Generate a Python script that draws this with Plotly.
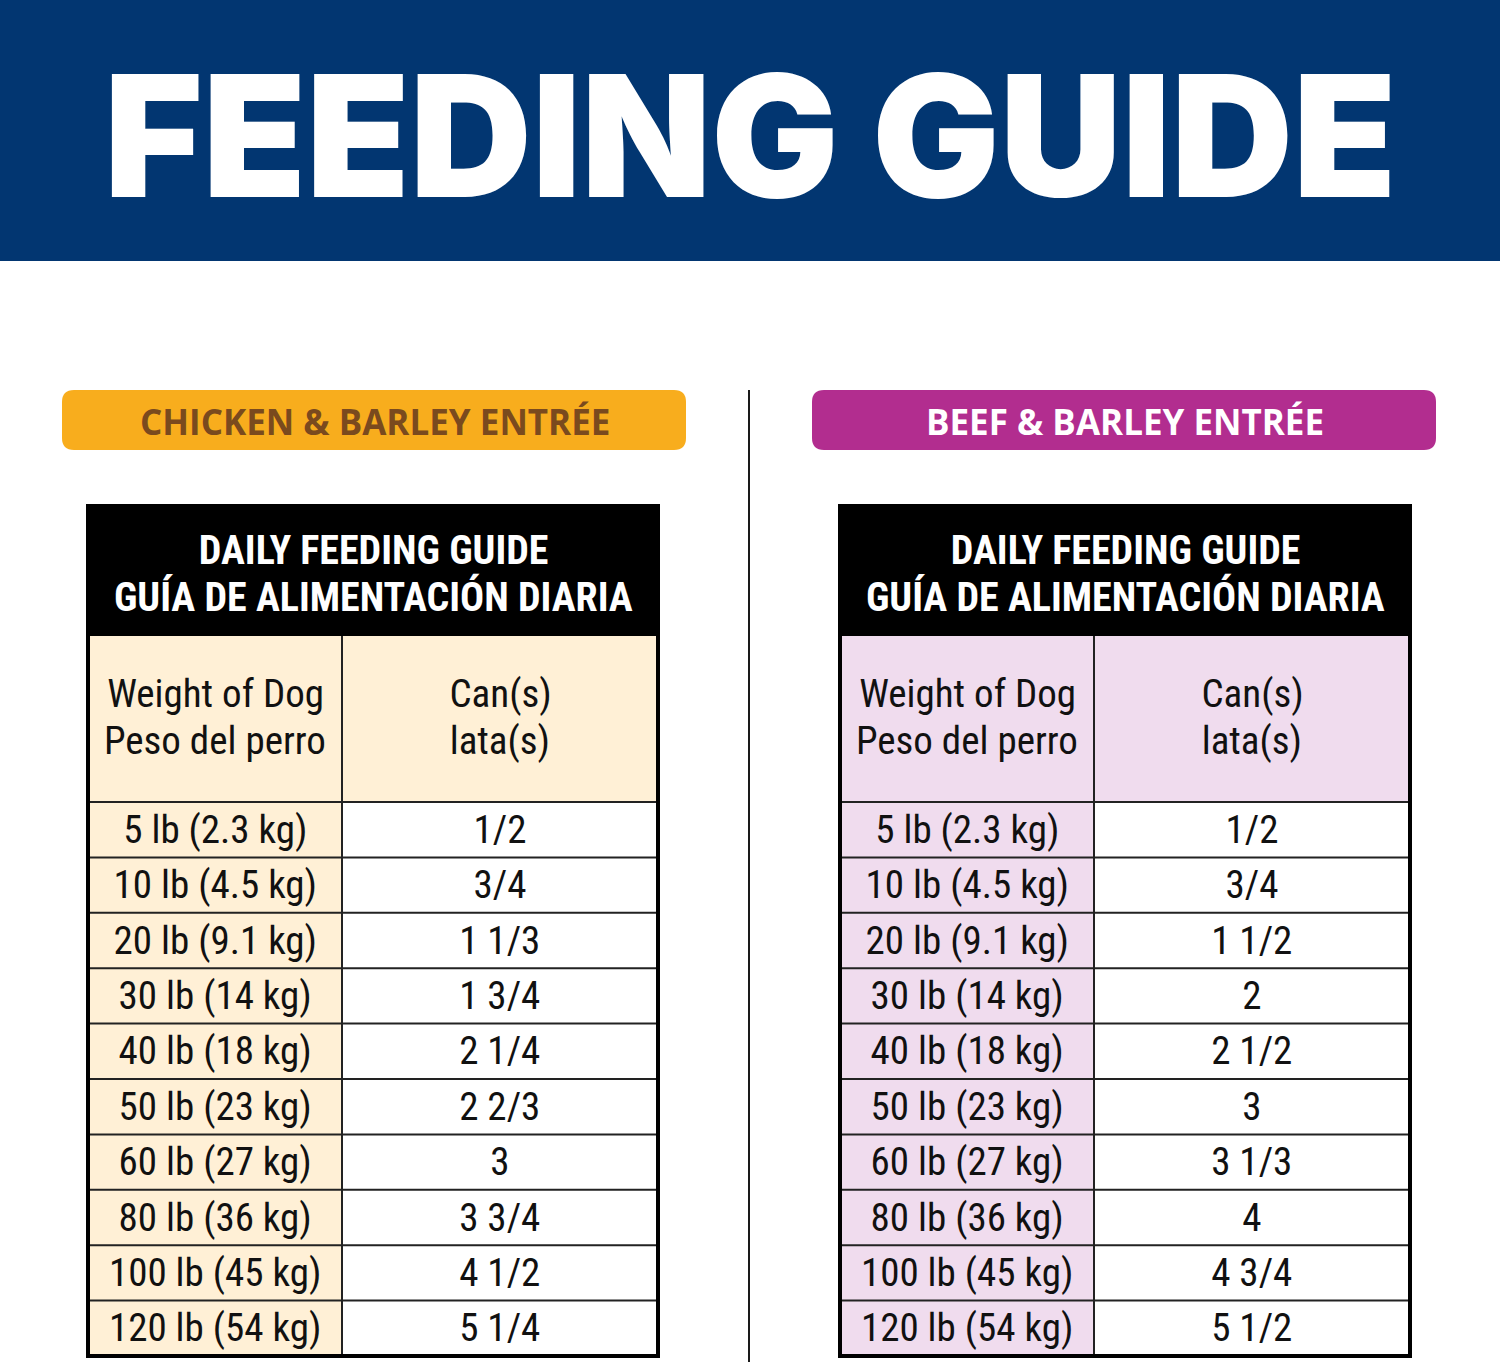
import plotly.graph_objects as go

# table content
weights = ["5 lb (2.3 kg)", "10 lb (4.5 kg)", "20 lb (9.1 kg)", "30 lb (14 kg)",
           "40 lb (18 kg)", "50 lb (23 kg)", "60 lb (27 kg)", "80 lb (36 kg)",
           "100 lb (45 kg)", "120 lb (54 kg)"]
chicken_cans = ["1/2", "3/4", "1 1/3", "1 3/4", "2 1/4", "2 2/3", "3", "3 3/4", "4 1/2", "5 1/4"]
beef_cans = ["1/2", "3/4", "1 1/2", "2", "2 1/2", "3", "3 1/3", "4", "4 3/4", "5 1/2"]

title = "FEEDING GUIDE"
recipes = ["CHICKEN & BARLEY ENTRÉE", "BEEF & BARLEY ENTRÉE"]
header_lines = ["DAILY FEEDING GUIDE", "GUÍA DE ALIMENTACIÓN DIARIA"]
col_heads = [["Weight of Dog", "Peso del perro"], ["Can(s)", "lata(s)"]]

NAVY = "#023671"
pill_colors = ["#F8AD1D", "#B22D8F"]
pill_text_colors = ["#7A4A1E", "#FFFFFF"]
tints = ["#FFF0D6", "#F0DCEE"]

COND = "Roboto"  # narrowed with font-stretch below

W, H = 1500, 1362
fig = go.Figure()
shapes = []
annotations = []

# banner
shapes.append(dict(type="rect", x0=0, x1=W, y0=0, y1=261, fillcolor=NAVY, line_width=0, layer="below"))
annotations.append(dict(x=W / 2, y=135, text=title, showarrow=False,
                        font=dict(family="Inter, Lato, Open Sans", size=169, color="white", weight=900)))

# divider
shapes.append(dict(type="line", x0=749, x1=749, y0=390, y1=H, line=dict(color="#1a1a1a", width=2)))


def rounded_rect(x0, y0, x1, y1, r):
    return (f"M{x0 + r},{y0} L{x1 - r},{y0} Q{x1},{y0} {x1},{y0 + r} "
            f"L{x1},{y1 - r} Q{x1},{y1} {x1 - r},{y1} L{x0 + r},{y1} "
            f"Q{x0},{y1} {x0},{y1 - r} L{x0},{y0 + r} Q{x0},{y0} {x0 + r},{y0} Z")


pill_x = [62, 812]
table_x = [88, 840]
table_w = 570
split = 254
top = 506
head_h = 130
colhead_h = 166
row_h = 55.4

for k, cans in enumerate([chicken_cans, beef_cans]):
    px = pill_x[k]
    shapes.append(dict(type="path", path=rounded_rect(px, 390, px + 624, 450, 12),
                       fillcolor=pill_colors[k], line_width=0))
    annotations.append(dict(x=px + 313, y=421, text=recipes[k], showarrow=False,
                            font=dict(family="Open Sans, Lato", size=35, color=pill_text_colors[k], weight=700)))

    x0 = table_x[k]
    x1 = x0 + table_w
    xs = x0 + split
    y_head_end = top + head_h
    y_col_end = y_head_end + colhead_h
    y_end = y_col_end + row_h * len(weights)

    # fills
    shapes.append(dict(type="rect", x0=x0, x1=x1, y0=top, y1=y_head_end, fillcolor="black", line_width=0))
    shapes.append(dict(type="rect", x0=x0, x1=x1, y0=y_head_end, y1=y_col_end, fillcolor=tints[k], line_width=0))
    shapes.append(dict(type="rect", x0=x0, x1=xs, y0=y_col_end, y1=y_end, fillcolor=tints[k], line_width=0))

    # header text
    for j, line in enumerate(header_lines):
        annotations.append(dict(x=(x0 + x1) / 2, y=top + 44 + j * 47, text=line, showarrow=False,
                                font=dict(family=COND, size=40, color="white", weight=700)))
    for c, lines in enumerate(col_heads):
        cx = (x0 + xs) / 2 if c == 0 else (xs + x1) / 2
        for j, line in enumerate(lines):
            annotations.append(dict(x=cx, y=y_head_end + 58 + j * 47, text=line, showarrow=False,
                                    font=dict(family=COND, size=39, color="#111")))

    # rows
    for i, (wt, cn) in enumerate(zip(weights, cans)):
        yc = y_col_end + row_h * (i + 0.5)
        annotations.append(dict(x=(x0 + xs) / 2, y=yc, text=wt, showarrow=False,
                                font=dict(family=COND, size=39, color="#111")))
        annotations.append(dict(x=(xs + x1) / 2, y=yc, text=cn, showarrow=False,
                                font=dict(family=COND, size=39, color="#111")))
        shapes.append(dict(type="line", x0=x0, x1=x1, y0=y_col_end + row_h * i, y1=y_col_end + row_h * i,
                           line=dict(color="#222", width=2)))

    # grid lines
    shapes.append(dict(type="line", x0=xs, x1=xs, y0=y_head_end, y1=y_end, line=dict(color="#222", width=2)))
    shapes.append(dict(type="rect", x0=x0, x1=x1, y0=top, y1=y_end, line=dict(color="black", width=4)))

fig.update_layout(
    width=W, height=H,
    margin=dict(l=0, r=0, t=0, b=0),
    paper_bgcolor="white", plot_bgcolor="white",
    xaxis=dict(range=[0, W], visible=False, fixedrange=True),
    yaxis=dict(range=[H, 0], visible=False, fixedrange=True),
    shapes=shapes, annotations=annotations, showlegend=False,
)

# condensed table lettering, and no page margin
css = ("var s=document.createElement('style');"
       "s.textContent='text.annotation-text[style*=\"Roboto\"]{font-stretch:condensed}';"
       "document.head.appendChild(s);document.body.style.margin='0';")
fig.write_html("out.html", post_script=css, config=dict(displayModeBar=False))
